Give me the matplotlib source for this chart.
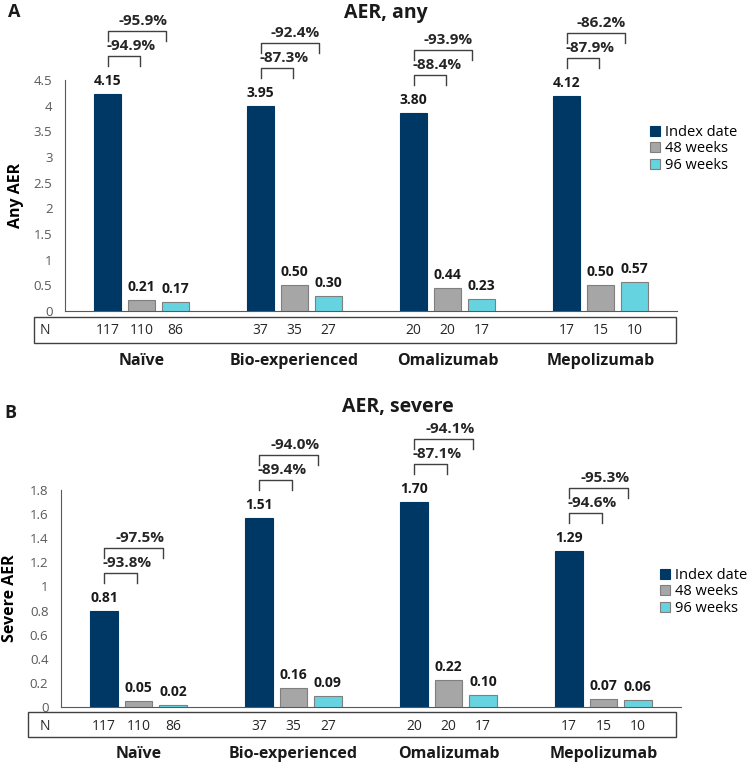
import matplotlib
matplotlib.use("Agg")
import matplotlib.pyplot as plt
from matplotlib.patches import Rectangle, Patch
from matplotlib.lines import Line2D
import matplotlib.transforms as mtrans
import numpy as np

plt.rcParams['font.family'] = ['Open Sans', 'DejaVu Sans']

categories = ["Naïve", "Bio-experienced", "Omalizumab", "Mepolizumab"]
series = ["Index date", "48 weeks", "96 weeks"]

# Panel A: any AER
any_index = [4.22, 4.00, 3.85, 4.18]
any_48 = [0.21, 0.50, 0.44, 0.50]
any_96 = [0.17, 0.30, 0.23, 0.57]
any_labels_index = ["4.15", "3.95", "3.80", "4.12"]
any_labels_48 = ["0.21", "0.50", "0.44", "0.50"]
any_labels_96 = ["0.17", "0.30", "0.23", "0.57"]
any_pct_48 = ["-94.9%", "-87.3%", "-88.4%", "-87.9%"]
any_pct_96 = ["-95.9%", "-92.4%", "-93.9%", "-86.2%"]

# Panel B: severe AER
sev_index = [0.80, 1.57, 1.70, 1.29]
sev_48 = [0.05, 0.16, 0.22, 0.07]
sev_96 = [0.02, 0.09, 0.10, 0.06]
sev_labels_index = ["0.81", "1.51", "1.70", "1.29"]
sev_labels_48 = ["0.05", "0.16", "0.22", "0.07"]
sev_labels_96 = ["0.02", "0.09", "0.10", "0.06"]
sev_pct_48 = ["-93.8%", "-89.4%", "-87.1%", "-94.6%"]
sev_pct_96 = ["-97.5%", "-94.0%", "-94.1%", "-95.3%"]

n_index = [117, 37, 20, 17]
n_48 = [110, 35, 20, 15]
n_96 = [86, 27, 17, 10]

colors = ["#003865", "#A6A6A6", "#66D3E0"]
edges = ["#003865", "#7F7F7F", "#7F7F7F"]

W, H = 750, 766
fig = plt.figure(figsize=(W / 100, H / 100), dpi=100)


def fx(px):
    return px / W


def fy(py):
    return 1 - py / H


def panel(ax_rect, vals, labels, pcts48, pcts96, ymax, yticks, yticklabels,
          ylabel, ylabel_x, title, title_xy, letter_xy, letter, box, n_y, cat_y, legend_xy):
    l, r, b, t = ax_rect
    ax = fig.add_axes([fx(l), fy(b), fx(r) - fx(l), fy(t) - fy(b)])
    x = np.arange(len(categories))
    off = 0.222
    w = 0.176
    for i, (v, c, e) in enumerate(zip(vals, colors, edges)):
        ax.bar(x + (i - 1) * off, v, width=w, color=c, edgecolor=e, linewidth=0.8, zorder=3)
    ax.set_xlim(-0.5, 3.5)
    ax.set_ylim(0, ymax)
    ax.set_yticks(yticks)
    ax.set_yticklabels(yticklabels, fontsize=9.5, color="#595959")
    ax.tick_params(axis='y', length=0, pad=9)
    ax.set_xticks([])
    for s in ["top", "right"]:
        ax.spines[s].set_visible(False)
    ax.spines["left"].set_color("#595959")
    ax.spines["bottom"].set_color("#595959")
    ax.spines["left"].set_linewidth(0.8)
    ax.spines["bottom"].set_linewidth(0.8)
    ax.set_ylabel(ylabel, fontsize=11.5, fontweight='bold')
    ax.yaxis.set_label_coords((fx(ylabel_x) - fx(l)) / (fx(r) - fx(l)), 0.5)

    def pt(dy_px):
        return mtrans.ScaledTranslation(0, dy_px / 100, fig.dpi_scale_trans)

    for i, (v, lab) in enumerate(zip(vals, labels)):
        for j in range(len(categories)):
            ax.text(x[j] + (i - 1) * off, v[j], lab[j], ha='center', va='center',
                    fontsize=10, fontweight='bold', color="#1a1a1a",
                    transform=ax.transData + pt(13))
    inv = fig.transFigure.inverted()
    kw = dict(color="#404040", lw=1.0)
    for j in range(len(categories)):
        x0 = x[j] - off
        x1 = x[j] - 0.01
        x2 = x[j] + off - 0.065
        top = vals[0][j]

        def P(xx, dy):
            return inv.transform((ax.transData + pt(dy)).transform((xx, top)))

        pts = [P(x0, 28), P(x0, 38), P(x1, 38), P(x1, 28)]
        fig.add_artist(Line2D([p[0] for p in pts], [p[1] for p in pts], **kw))
        pts = [P(x0, 53), P(x0, 63), P(x2, 63), P(x2, 53)]
        fig.add_artist(Line2D([p[0] for p in pts], [p[1] for p in pts], **kw))
        ax.text(x0 - 0.01, top, pcts48[j], ha='left', va='center', fontsize=11,
                fontweight='bold', color="#262626", transform=ax.transData + pt(48),
                clip_on=False)
        ax.text(x2 + 0.01, top, pcts96[j], ha='right', va='center', fontsize=11,
                fontweight='bold', color="#262626", transform=ax.transData + pt(73),
                clip_on=False)

    # N box
    bl, bt, br, bb = box
    fig.add_artist(Rectangle((fx(bl), fy(bb)), fx(br) - fx(bl), fy(bt) - fy(bb),
                             fill=False, edgecolor="#404040", lw=1.0,
                             transform=fig.transFigure))
    fig.text(fx(45), fy(n_y), "N", ha='center', va='center', fontsize=10, color="#262626")
    blend = mtrans.blended_transform_factory(ax.transData, fig.transFigure)
    for i, nn in enumerate([n_index, n_48, n_96]):
        for j in range(len(categories)):
            ax.text(x[j] + (i - 1) * off, fy(n_y), str(nn[j]), ha='center', va='center',
                    fontsize=10, color="#262626", transform=blend, clip_on=False)
    for j, c in enumerate(categories):
        ax.text(x[j], fy(cat_y), c, ha='center', va='center', fontsize=11.5,
                fontweight='bold', color="#1a1a1a", transform=blend, clip_on=False)
    fig.text(fx(title_xy[0]), fy(title_xy[1]), title, ha='center', va='center',
             fontsize=14, fontweight='bold', color="#1a1a1a")
    fig.text(fx(letter_xy[0]), fy(letter_xy[1]), letter, ha='center', va='center',
             fontsize=13, fontweight='bold', color="#1a1a1a")
    handles = [Patch(facecolor=c, edgecolor=e, linewidth=0.8) for c, e in zip(colors, edges)]
    fig.legend(handles, series, loc='upper left',
               bbox_to_anchor=(fx(legend_xy[0]), fy(legend_xy[1])),
               frameon=False, fontsize=10.5, handlelength=0.7, handleheight=0.7,
               handletextpad=0.3, labelspacing=0.1, borderpad=0, borderaxespad=0)
    return ax


panel((65, 677, 311, 80), [any_index, any_48, any_96],
      [any_labels_index, any_labels_48, any_labels_96], any_pct_48, any_pct_96,
      4.5, [0, 0.5, 1, 1.5, 2, 2.5, 3, 3.5, 4, 4.5],
      ["0", "0.5", "1", "1.5", "2", "2.5", "3", "3.5", "4", "4.5"],
      "Any AER", 24, "AER, any", (386, 13), (14, 12), "A",
      (34, 317, 676, 343), 331, 361, (650, 125))

panel((61, 681, 707, 490), [sev_index, sev_48, sev_96],
      [sev_labels_index, sev_labels_48, sev_labels_96], sev_pct_48, sev_pct_96,
      1.8, [0, 0.2, 0.4, 0.6, 0.8, 1, 1.2, 1.4, 1.6, 1.8],
      ["0", "0.2", "0.4", "0.6", "0.8", "1", "1.2", "1.4", "1.6", "1.8"],
      "Severe AER", 18, "AER, severe", (398, 407), (10, 413), "B",
      (28, 712, 676, 737), 726, 754, (660, 568))

fig.savefig("out.png", dpi=100)
